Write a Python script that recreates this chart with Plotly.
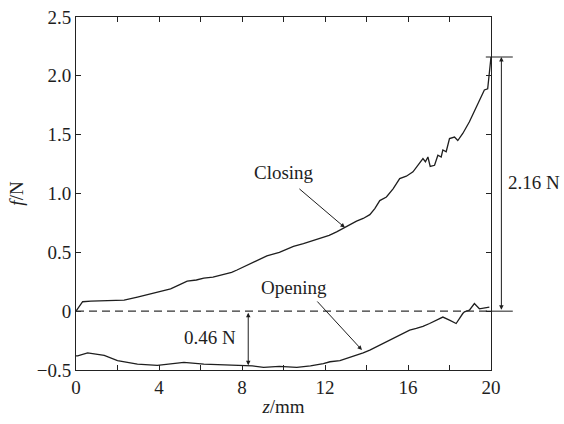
import plotly.graph_objects as go

# Friction force during closing and opening strokes
closing_z = [0.0, 0.08, 0.32, 0.72, 1.5, 2.32, 2.96, 3.4, 3.76, 4.2, 4.56, 5.0, 5.36, 5.8, 6.16, 6.6,
             7.12, 7.5, 7.76, 8.2, 8.56, 9.2, 9.8, 10.48, 10.96, 11.4, 11.76, 12.2, 12.56, 12.96,
             13.28, 13.52, 13.84, 14.16, 14.4, 14.64, 14.96, 15.28, 15.6, 15.92, 16.24, 16.48,
             16.72, 16.84, 16.96, 17.07, 17.28, 17.44, 17.6, 17.68, 17.84, 18.0, 18.24, 18.4,
             18.64, 18.96, 19.36, 19.68, 19.84, 19.92, 20.0]
closing_f = [0.0, 0.02, 0.08, 0.085, 0.088, 0.093, 0.12, 0.14, 0.155, 0.17, 0.19, 0.225, 0.255, 0.265,
             0.28, 0.29, 0.31, 0.33, 0.35, 0.385, 0.42, 0.47, 0.5, 0.55, 0.575, 0.6, 0.62, 0.645,
             0.674, 0.71, 0.745, 0.765, 0.788, 0.82, 0.872, 0.94, 0.97, 1.04, 1.127, 1.147,
             1.184, 1.24, 1.297, 1.27, 1.31, 1.23, 1.24, 1.325, 1.31, 1.37, 1.355, 1.467, 1.48,
             1.45, 1.51, 1.61, 1.765, 1.88, 1.89, 2.02, 2.16]

opening_z = [0.0, 0.08, 0.56, 1.36, 2.0, 2.96, 3.92, 4.6, 5.2, 6.16, 7.0, 7.76, 8.5, 9.04, 9.8,
             10.64, 11.3, 11.92, 12.24, 12.72, 13.2, 13.84, 14.16, 14.64, 15.12, 15.44, 15.76,
             16.08, 16.4, 16.72, 17.04, 17.36, 17.68, 18.0, 18.32, 18.64, 18.72, 18.96, 19.2,
             19.44, 19.92]
opening_f = [-0.38, -0.38, -0.355, -0.375, -0.42, -0.45, -0.46, -0.45, -0.436, -0.45, -0.455,
             -0.46, -0.465, -0.478, -0.47, -0.478, -0.465, -0.445, -0.43, -0.42, -0.394, -0.354,
             -0.331, -0.29, -0.246, -0.218, -0.19, -0.161, -0.147, -0.13, -0.105, -0.076, -0.05,
             -0.076, -0.105, -0.02, -0.005, 0.008, 0.065, 0.02, 0.035]

x_ticks = [0, 2, 4, 6, 8, 10, 12, 14, 16, 18, 20]
x_labels = ["0", "", "4", "", "8", "", "12", "", "16", "", "20"]
y_ticks = [-0.5, 0, 0.5, 1.0, 1.5, 2.0, 2.5]
y_labels = ["\u22120.5", "0", "0.5", "1.0", "1.5", "2.0", "2.5"]

peak_force = 2.16
gap_force = 0.46
gap_z = 8.3

X_RANGE = [0, 20]
Y_RANGE = [-0.5, 2.5]

W, H = 564, 424
M = dict(l=76, r=73, t=17, b=54, autoexpand=False)
PLOT_H = H - M["t"] - M["b"]

FONT = "Liberation Serif, Times New Roman, serif"
INK = "#1e1e1e"
FS = 19


def px(z):
    return (z - X_RANGE[0]) / (X_RANGE[1] - X_RANGE[0])


def py(f):
    return (f - Y_RANGE[0]) / (Y_RANGE[1] - Y_RANGE[0])


fig = go.Figure()
fig.add_trace(go.Scatter(x=closing_z, y=closing_f, mode="lines",
                         line=dict(color=INK, width=1.3), showlegend=False))
fig.add_trace(go.Scatter(x=opening_z, y=opening_f, mode="lines",
                         line=dict(color=INK, width=1.3), showlegend=False))

# zero reference line
fig.add_shape(type="line", xref="x", yref="y", x0=0, x1=20, y0=0, y1=0,
              line=dict(color="#333", width=1.2, dash="8px,5px"))

# dimension lines for the peak force
ext_x = 20.5
for f in (peak_force, 0):
    fig.add_shape(type="line", xref="paper", yref="paper",
                  x0=px(19.75), x1=px(21.05), y0=py(f), y1=py(f),
                  line=dict(color=INK, width=1))

annotations = [
    dict(xref="paper", yref="paper", axref="pixel", ayref="pixel",
         x=px(ext_x), y=py(peak_force), ax=0, ay=(py(peak_force) - py(0)) * PLOT_H,
         showarrow=True, arrowside="end+start", arrowhead=2, arrowsize=0.9,
         arrowwidth=1, arrowcolor=INK, standoff=0, startstandoff=0, text=""),
    dict(xref="paper", yref="paper", x=px(22.08), y=py(1.09), text="2.16 N",
         xanchor="center", yanchor="middle",
         showarrow=False, font=dict(size=FS, color=INK, family=FONT)),
    dict(xref="x", yref="y", axref="x", ayref="y",
         x=gap_z, y=-gap_force, ax=gap_z, ay=0,
         showarrow=True, arrowside="end+start", arrowhead=2, arrowsize=0.9,
         arrowwidth=1, arrowcolor=INK, standoff=0, startstandoff=0, text=""),
    dict(xref="x", yref="y", x=6.45, y=-0.22, text="0.46 N",
         showarrow=False, font=dict(size=FS, color=INK, family=FONT)),
    dict(xref="x", yref="y", x=12.96, y=0.71, ax=-47, ay=-40, text="",
         showarrow=True, arrowhead=2, arrowsize=0.9, arrowwidth=1, arrowcolor=INK, standoff=0),
    dict(xref="x", yref="y", x=10.0, y=1.18, text="Closing",
         showarrow=False, font=dict(size=FS, color=INK, family=FONT)),
    dict(xref="x", yref="y", x=13.78, y=-0.33, ax=-46, ay=-50, text="",
         showarrow=True, arrowhead=2, arrowsize=0.9, arrowwidth=1, arrowcolor=INK, standoff=0),
    dict(xref="x", yref="y", x=10.5, y=0.2, text="Opening",
         showarrow=False, font=dict(size=FS, color=INK, family=FONT)),
]

axis_common = dict(showline=True, linecolor="#222", linewidth=1, mirror="ticks",
                   ticks="inside", ticklen=5, tickcolor="#222", tickwidth=1,
                   showgrid=False, zeroline=False, automargin=False,
                   tickfont=dict(size=FS, color=INK, family=FONT))

fig.update_layout(
    width=W, height=H,
    margin=M,
    paper_bgcolor="white", plot_bgcolor="white",
    annotations=annotations,
    xaxis=dict(range=X_RANGE, tickmode="array", tickvals=x_ticks, ticktext=x_labels,
               title=dict(text="<i>z</i>/mm", standoff=2,
                          font=dict(size=FS, color=INK, family=FONT)),
               **axis_common),
    yaxis=dict(range=Y_RANGE, tickmode="array", tickvals=y_ticks, ticktext=y_labels,
               title=dict(text="<i>f</i>/N", standoff=8,
                          font=dict(size=FS, color=INK, family=FONT)),
               **axis_common),
)

fig.write_html("out.html")
